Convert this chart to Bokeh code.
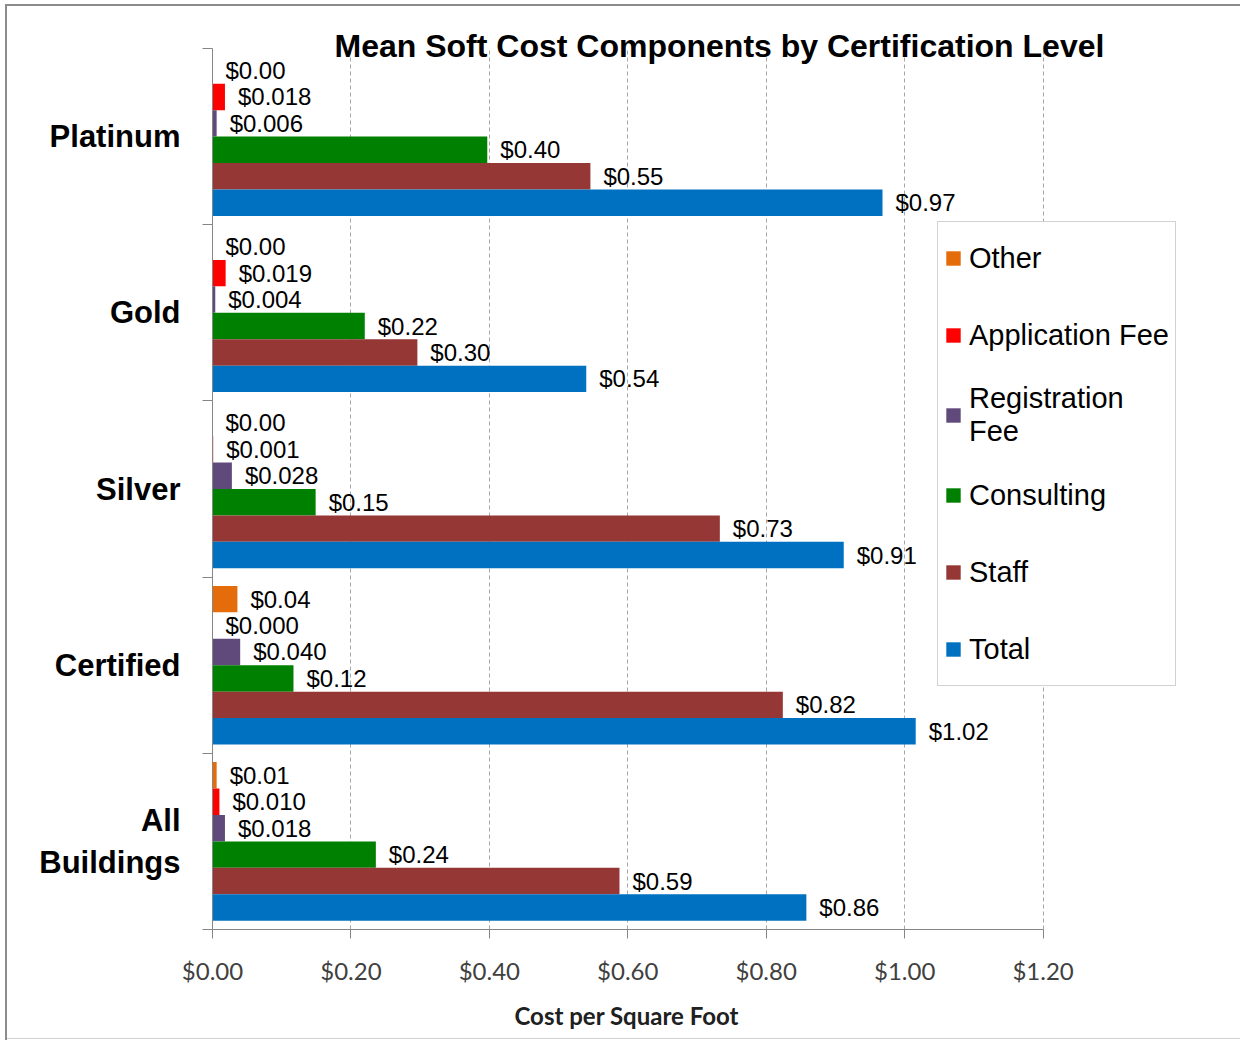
from bokeh.plotting import figure
from bokeh.models import (FixedTicker, NumeralTickFormatter, Legend, LegendItem,
                          ColumnDataSource, Title)
from bokeh.core.properties import value
from bokeh.embed import file_html
from bokeh.resources import INLINE

# ---- data -------------------------------------------------------------
categories = ["Platinum", "Gold", "Silver", "Certified", "All\nBuildings"]
series = ["Other", "Application Fee", "Registration\nFee", "Consulting", "Staff", "Total"]

other = [0.000, 0.000, 0.000, 0.036, 0.006]
application_fee = [0.018, 0.019, 0.001, 0.000, 0.010]
registration_fee = [0.006, 0.004, 0.028, 0.040, 0.018]
consulting = [0.397, 0.220, 0.149, 0.117, 0.236]
staff = [0.546, 0.296, 0.733, 0.824, 0.588]
total = [0.968, 0.540, 0.912, 1.016, 0.858]

series_values = [other, application_fee, registration_fee, consulting, staff, total]
label_decimals = [2, 3, 3, 2, 2, 2]
colors = ["#E46C0A", "#FF0000", "#604A7B", "#008000", "#953735", "#0070C0"]
x_ticks = [0.0, 0.2, 0.4, 0.6, 0.8, 1.0, 1.2]
x_axis_title = "Cost per Square Foot"
chart_title = "Mean Soft Cost Components by Certification Level"

# ---- figure -----------------------------------------------------------
n = len(categories)
centers = [n - k - 0.5 for k in range(n)]
bar_h = 0.15

p = figure(width=1240, height=1040, x_range=(0, 1.4), y_range=(0, n),
           output_backend="svg", toolbar_location=None,
           min_border_left=212, min_border_right=59,
           min_border_top=48, min_border_bottom=110)
p.outline_line_color = None
p.border_fill_color = None
p.background_fill_color = "white"
p.styles = {"background": (
    "linear-gradient(#8c8c8c,#8c8c8c) 5px 4px / 2px calc(100% - 4px) no-repeat, "
    "linear-gradient(#8c8c8c,#8c8c8c) 5px 4px / calc(100% - 5px) 2px no-repeat, "
    "linear-gradient(#d0d0d0,#d0d0d0) 5px 1038px / calc(100% - 5px) 1px no-repeat, "
    "#ffffff")}

items = []
for i, (name, vals) in enumerate(zip(series, series_values)):
    ys = [c + 0.375 - i * bar_h for c in centers]
    labels = ["$" + format(v, "." + str(label_decimals[i]) + "f") for v in vals]
    src = ColumnDataSource(dict(y=ys, right=vals, label=labels))
    r = p.hbar(y="y", left=0, right="right", height=bar_h, source=src,
               fill_color=colors[i], line_color=None)
    items.append(LegendItem(label=name, renderers=[r]))
    p.text(x="right", y="y", text="label", source=src, x_offset=13,
           text_baseline="middle", text_align="left",
           text_font=value("Liberation Sans"), text_font_size="24px",
           text_color="black")

legend = Legend(items=items, location=(725, 243), margin=0,
                border_line_color="#A6A6A6", border_line_width=1,
                background_fill_color="white", background_fill_alpha=1,
                label_text_font="Liberation Sans", label_text_font_size="29px",
                label_text_color="black", label_height=60,
                glyph_width=18, glyph_height=18, label_standoff=7,
                spacing=17, padding=6)
p.add_layout(legend)

# ---- axes -------------------------------------------------------------
xt = FixedTicker(ticks=x_ticks)
p.xaxis.ticker = xt
p.xaxis.formatter = NumeralTickFormatter(format="$0.00")
p.xaxis.bounds = (0, 1.2)
p.xaxis.axis_line_color = "#868686"
p.xaxis.major_tick_line_color = "#868686"
p.xaxis.major_tick_out = 9
p.xaxis.major_tick_in = 0
p.xaxis.minor_tick_line_color = None
p.xaxis.major_label_text_font = "Lato"
p.xaxis.major_label_text_font_size = "24px"
p.xaxis.major_label_text_color = "#404040"
p.xaxis.major_label_standoff = 17

# axis title, centred under the 0..1.2 span of the axis
p.add_layout(Title(text=x_axis_title, align="left", offset=302, standoff=22,
                   text_font="Lato", text_font_size="24px",
                   text_font_style="bold", text_color="#202020"), "below")

p.yaxis.ticker = FixedTicker(ticks=centers, minor_ticks=list(range(n + 1)))
p.yaxis.major_label_overrides = {c: cat for c, cat in zip(centers, categories)}
p.yaxis.axis_line_color = "#868686"
p.yaxis.major_tick_line_color = None
p.yaxis.major_tick_out = 0
p.yaxis.major_tick_in = 0
p.yaxis.minor_tick_line_color = "#868686"
p.yaxis.minor_tick_out = 10
p.yaxis.minor_tick_in = 0
p.yaxis.major_label_text_font = "Liberation Sans"
p.yaxis.major_label_text_font_size = "31px"
p.yaxis.major_label_text_font_style = "bold"
p.yaxis.major_label_text_color = "black"
p.yaxis.major_label_standoff = 22

p.xgrid.ticker = xt
p.xgrid.grid_line_color = "#A6A6A6"
p.xgrid.grid_line_dash = "4 3"
p.xgrid.bounds = (0, 1.2)
p.ygrid.grid_line_color = None

p.title.text = chart_title
p.title.text_font = "Liberation Sans"
p.title.text_font_size = "32px"
p.title.text_font_style = "bold"
p.title.text_color = "black"
p.title.align = "left"
p.title.offset = 122
p.title.standoff = -30

open("out.html", "w").write(file_html(p, INLINE))
